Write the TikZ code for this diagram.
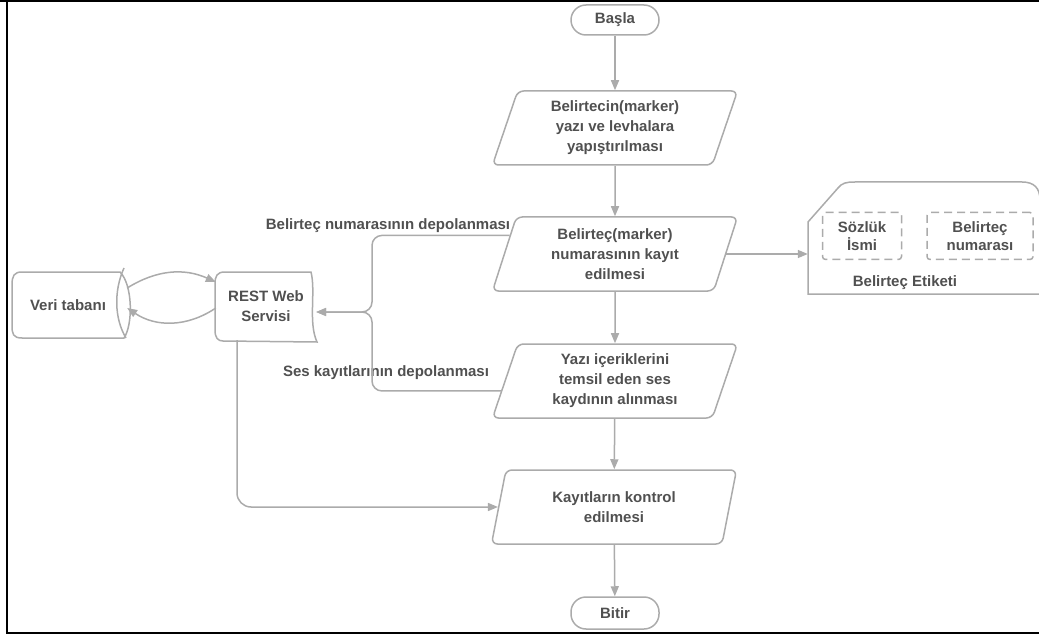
\documentclass[tikz,border=0pt]{standalone}
\usepackage{fontspec}
\setmainfont{Liberation Sans}
\usetikzlibrary{shapes.geometric,arrows.meta,calc}
\definecolor{ln}{HTML}{ABABAB}
\definecolor{tx}{HTML}{505050}
\begin{document}
\begin{tikzpicture}[x=1pt,y=-1pt,
  every node/.style={font=\bfseries\fontsize{15}{20}\selectfont, text=tx, align=center, inner sep=0pt},
  line/.style={draw=ln, line width=1.5pt},
  arr/.style={line, -{Triangle[length=10pt,width=8pt]}},
  term/.style={draw=ln, line width=1.5pt, rounded corners=15pt, minimum width=88pt, minimum height=30pt},
  para/.style={draw=ln, line width=1.5pt, shape=trapezium, trapezium left angle=65, trapezium right angle=115, trapezium stretches body, minimum width=245pt, minimum height=74pt, rounded corners=6pt},
  dbox/.style={draw=ln, line width=1.5pt, dash pattern=on 8pt off 5pt, rounded corners=3pt, font=\bfseries\fontsize{15}{18}\selectfont}]
\useasboundingbox (0,0) rectangle (1039,639);
% frame
\draw[line width=2.5pt] (0,1.2) -- (1039,1.2);
\draw[line width=2.5pt] (7,0) -- (7,633) -- (1039,633);

% main flow
\node[term] (start) at (615,20) {Başla};
\node[para] (p1) at (615,128) {Belirtecin(marker)\\yazı ve levhalara\\yapıştırılması};
\node[para] (p2) at (615,254) {Belirteç(marker)\\numarasının kayıt\\edilmesi};
\node[para] (p3) at (615,381) {Yazı içeriklerini\\temsil eden ses\\kaydının alınması};
\node[para] (p4) at (614,507) {Kayıtların kontrol\\edilmesi};
\node[term, minimum height=32pt] (end) at (615,613) {Bitir};

% REST web service
\draw[line] (223,341) -- (317,342) .. controls (308,322) and (316,292) .. (311,272) -- (225,272) .. controls (217,272) and (215,276) .. (215,284) -- (215,330) .. controls (215,338) and (218,341) .. (223,341);
\node[minimum width=100pt, minimum height=68pt] (rest) at (266,306) {REST Web\\Servisi};

% database
\draw[line] (22,272) -- (120,272) .. controls (133,285) and (133,325) .. (124,338) -- (22,338) .. controls (13,338) and (12,334) .. (12,325) -- (12,285) .. controls (12,276) and (14,272) .. (22,272);
\draw[line] (124,268) .. controls (114,290) and (114,318) .. (126,338);
\node[minimum width=118pt, minimum height=66pt] (db) at (68,305) {Veri tabanı};

% marker label card
\draw[line] (808,294) -- (808,222) -- (838,188) .. controls (842,183) and (846,182) .. (855,182) -- (1022,182) .. controls (1034,182) and (1040,188) .. (1040,200) -- (1040,294) -- cycle;
\node[minimum width=232pt, minimum height=112pt] (etk) at (924,238) {};
\node[dbox, minimum width=79pt, minimum height=47pt] (sz) at (862,236) {Sözlük\\İsmi};
\node[dbox, minimum width=106pt, minimum height=47pt] (bn) at (980,236) {Belirteç\\numarası};
\node (etl) at (905,283) {Belirteç Etiketi};

% connector labels
\node (l1) at (388,226) {Belirteç numarasının depolanması};
\node (l2) at (386,373) {Ses kayıtlarının depolanması};

% connectors
\draw[arr] (start) -- (p1);
\draw[arr] (p1) -- (p2);
\draw[arr] (p2) -- (p3);
\draw[arr] (p3) -- (p4);
\draw[arr] (p4) -- (end);
\draw[arr] (p2.east) -- (p2.east -| etk.west);
\coordinate (j) at (372,312);
\draw[arr, rounded corners=10pt] (p2.170) -| (j) -- (rest.east |- j);
\draw[arr, rounded corners=10pt] (p3.185) -| (j) -- (rest.east |- j);
\draw[arr, rounded corners=14pt] ([xshift=-29pt]rest.south) |- (p4.west);
\draw[arr] ([yshift=17pt]db.east) to[bend left=28] ([yshift=24pt]rest.west);
\draw[arr] ([yshift=-2pt]rest.west) to[bend left=34] ([yshift=-3pt]db.east);
\end{tikzpicture}
\end{document}
